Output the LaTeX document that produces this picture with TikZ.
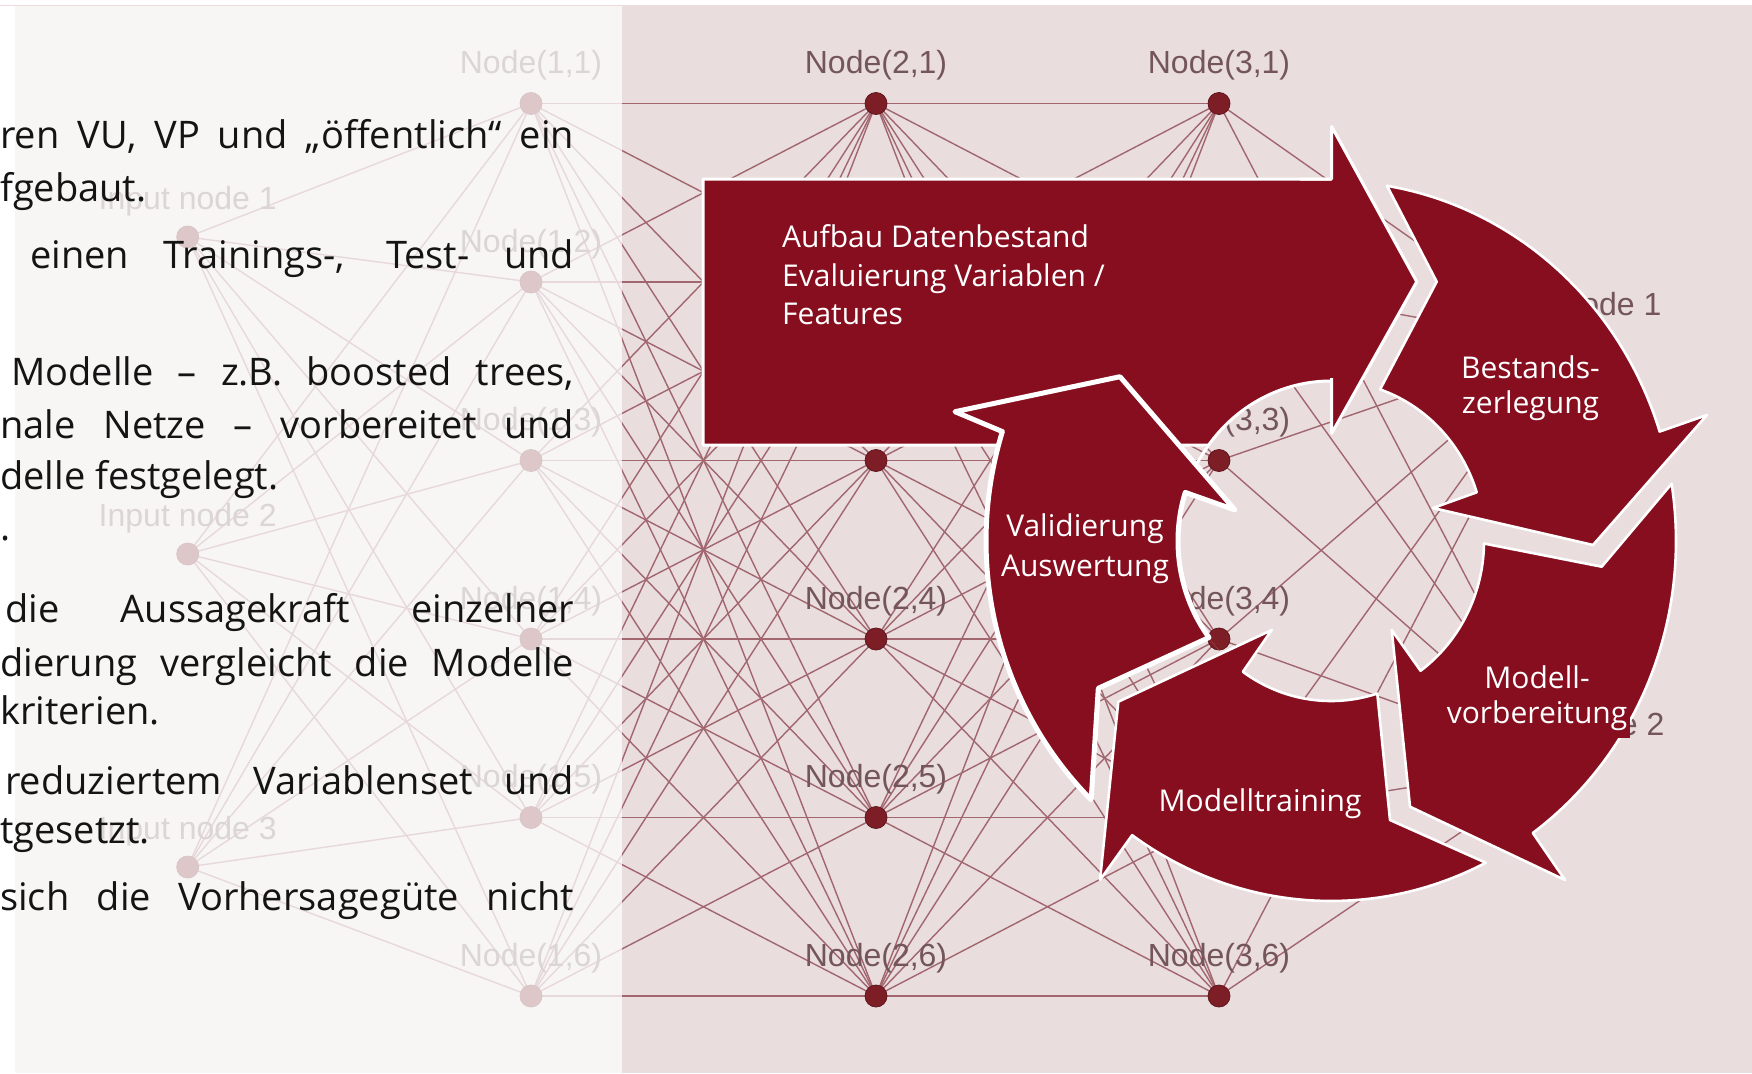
\documentclass[tikz,border=0pt]{standalone}
\usepackage{fontspec}
\setmainfont{Open Sans}
\newfontfamily\netfont{Liberation Sans}
\definecolor{bgpink}{RGB}{233,221,222}
\definecolor{panelwhite}{RGB}{253,253,253}
\definecolor{netcol}{RGB}{162,102,111}
\definecolor{netlbl}{RGB}{116,86,90}
\definecolor{dotred}{RGB}{125,30,38}
\definecolor{dotedge}{RGB}{95,22,28}
\definecolor{arrowred}{RGB}{134,14,30}
\definecolor{txtcol}{RGB}{20,20,20}
\definecolor{topline}{RGB}{236,218,221}

\newcommand{\drawnet}{%
  \coordinate (I1) at (187.7,237);
  \coordinate (I2) at (187.7,554);
  \coordinate (I3) at (187.7,867);
  \coordinate (O1) at (1560,343);
  \coordinate (O2) at (1563,763);
  \foreach \q/\y in {1/103.5,2/282,3/460.5,4/639,5/817.5,6/996}{%
    \coordinate (A\q) at (531,\y);
    \coordinate (B\q) at (876,\y);
    \coordinate (C\q) at (1219,\y);
  }%
  \foreach \ii in {1,...,6}{\foreach \jj in {1,...,6}{%
    \draw[nl] (A\ii) -- (B\jj);
    \draw[nl] (B\ii) -- (C\jj);
  }}%
  \foreach \ii in {1,2,3}{\foreach \jj in {1,...,6}{\draw[nl] (I\ii) -- (A\jj);}}%
  \foreach \ii in {1,...,6}{\foreach \jj in {1,2}{\draw[nl] (C\ii) -- (O\jj);}}%
  \foreach \q/\y in {1/103.5,2/282,3/460.5,4/639,5/817.5,6/996}{%
    \node[netdot] (dA\q) at (A\q) {};
    \node[netdot] (dB\q) at (B\q) {};
    \node[netdot] (dC\q) at (C\q) {};
    \node[netlabel] (tA\q) at (531,{\y-30}) {Node(1,\q)};
    \node[netlabel] (tB\q) at (876,{\y-30}) {Node(2,\q)};
    \node[netlabel] (tC\q) at (1219,{\y-30}) {Node(3,\q)};
  }%
  \foreach \m/\y in {1/237,2/554,3/867}{%
    \node[netdot] (dI\m) at (I\m) {};
    \node[netlabel] (tI\m) at (187.7,{\y-28}) {Input node \m};
  }%
  \foreach \m/\x/\y in {1/1560/343,2/1563/763}{%
    \node[netdot] (dO\m) at (O\m) {};
    \node[netlabel] (tO\m) at (\x,{\y-28}) {Output node \m};
  }%
}

\begin{document}
\begin{tikzpicture}[x=1pt,y=-1pt,
  nl/.style={draw=netcol, line width=1.4pt},
  netdot/.style={circle, fill=dotred, draw=dotedge, line width=0.8pt, minimum size=22pt, inner sep=0pt},
  netlabel/.style={font=\netfont\fontsize{32}{36}\selectfont, text=netlbl, anchor=base, inner sep=0pt},
  ltext/.style={anchor=base west, inner sep=0pt, text=txtcol, font=\fontsize{38}{44}\selectfont},
  albl/.style={anchor=base, inner sep=0pt, text=white, font=\fontsize{30}{35}\selectfont},
  awlbl/.style={anchor=base west, inner sep=0pt, text=white, font=\fontsize{30}{35}\selectfont},
  cyc/.style={fill=arrowred, draw=white, line width=2.6pt, line join=round},
]
\useasboundingbox (0,0) rectangle (1752,1073);
\clip (0,0) rectangle (1752,1073);

% backgrounds
\fill[white] (0,0) rectangle (1752,1073);
\fill[bgpink] (15,5) rectangle (1752,1073);

% network
\drawnet

% left panel overlay
\fill[panelwhite, opacity=0.76] (15,5) rectangle (622,1073);
\fill[white] (0,0) rectangle (15,1073);
\fill[white] (0,0) rectangle (1752,5);
\draw[topline, line width=1.2pt] (0,5.5) -- (1752,5.5);

% left text
\node[ltext] (l1) at (0,148) {\makebox[574pt][s]{ren VU, VP und „öffentlich“ ein}};
\node[ltext] (l2) at (0,201) {fgebaut.};
\node[ltext] (l3) at (30,268) {\makebox[544pt][s]{einen Trainings-, Test- und}};
\node[ltext] (l4) at (11,385) {\makebox[563pt][s]{Modelle – z.B. boosted trees,}};
\node[ltext] (l5) at (0,438) {\makebox[574pt][s]{nale Netze – vorbereitet und}};
\node[ltext] (l6) at (0,489) {delle festgelegt.};
\node[ltext] (l7) at (0,540) {.};
\node[ltext] (l8) at (5,622) {\makebox[569pt][s]{die Aussagekraft einzelner}};
\node[ltext] (l9) at (0,676) {\makebox[574pt][s]{dierung vergleicht die Modelle}};
\node[ltext] (l10) at (0,724) {kriterien.};
\node[ltext] (l11) at (5,794) {\makebox[569pt][s]{reduziertem Variablenset und}};
\node[ltext] (l12) at (0,843) {tgesetzt.};
\node[ltext] (l13) at (0,910) {\makebox[574pt][s]{sich die Vorhersagegüte nicht}};

% big block arrow
\filldraw[fill=arrowred, draw=white, line width=3pt, line join=round]
  (703,179) -- (1331.7,179) -- (1331.7,126.7) -- (1416.7,281.7) -- (1331.7,433.3)
  -- (1331.7,445) -- (703,445) -- cycle;

% inner disk of the cycle (background shows through)
\begin{scope}
  \clip (1331,541) ellipse [x radius=153pt, y radius=160pt];
  \fill[bgpink] (1100,300) rectangle (1600,800);
  \drawnet
\end{scope}
\draw[white, line width=3pt] plot[domain=0:1, samples=50, variable=\tt]
  ({1331+153*cos(197.4+72.6*\tt)},{541+160*sin(197.4+72.6*\tt)});

% head of the big arrow over the disk
\fill[arrowred] (1331.7,179) -- (1331.7,126.7) -- (1416.7,281.7) -- (1331.7,433.3) -- cycle;
\draw[white, line width=3pt, line join=round]
  (1300,179) -- (1331.7,179) -- (1331.7,126.7) -- (1416.7,281.7) -- (1331.7,433.3) -- (1331.7,378);

% Bestandszerlegung
\filldraw[cyc] (1436.7,281.7)
  -- plot[domain=0:1, samples=50, variable=\tt] ({1331+153*cos(-71.3+53.6*\tt)},{541+160*sin(-71.3+53.6*\tt)})
  -- (1433,508) -- (1593,545) -- (1707,415)
  -- plot[domain=0:1, samples=60, variable=\tt] ({1331+345*cos(-17.7-63*\tt)},{541+360*sin(-17.7-63*\tt)})
  -- cycle;

% Modellvorbereitung
\filldraw[cyc] (1601.7,566.7)
  -- plot[domain=0:1, samples=50, variable=\tt] ({1331+153*cos(0.9+53.3*\tt)},{541+160*sin(0.9+53.3*\tt)})
  -- (1391.7,630) -- (1410,806.7) -- (1565,880)
  -- plot[domain=0:1, samples=60, variable=\tt] ({1331+345*cos(54.2-63.4*\tt)},{541+360*sin(54.2-63.4*\tt)})
  -- cycle;

% Modelltraining
\filldraw[cyc] (1390,820)
  -- plot[domain=0:1, samples=50, variable=\tt] ({1331+153*cos(72.4+52.8*\tt)},{541+160*sin(72.4+52.8*\tt)})
  -- (1271.7,630) -- (1118.3,701.7) -- (1100,880)
  -- plot[domain=0:1, samples=60, variable=\tt] ({1331+345*cos(125.2-61.9*\tt)},{541+360*sin(125.2-61.9*\tt)})
  -- cycle;

% Validierung / Auswertung
\filldraw[cyc, line width=5pt] (1098.3,688.3)
  -- plot[domain=0:1, samples=50, variable=\tt] ({1331+153*cos(142.9+54.8*\tt)},{541+160*sin(142.9+54.8*\tt)})
  -- (1235,510) -- (1120,376.7) -- (955,411.7)
  -- plot[domain=0:1, samples=60, variable=\tt] ({1331+345*cos(197.7-63.7*\tt)},{541+360*sin(197.7-63.7*\tt)})
  -- cycle;

% label box patch
\fill[arrowred] (1590,713) rectangle (1630,738);

% arrow labels
\node[awlbl] (a1) at (782,247.6) {Aufbau Datenbestand};
\node[awlbl] (a2) at (782,286) {Evaluierung Variablen /};
\node[awlbl] (a3) at (782,324.5) {Features};
\node[albl] (b1) at (1530.5,378.3) {Bestands-};
\node[albl] (b2) at (1530.5,413.3) {zerlegung};
\node[albl] (m1) at (1537,688.3) {Modell-};
\node[albl] (m2) at (1537,723.3) {vorbereitung};
\node[albl] (t1) at (1260,811.7) {Modelltraining};
\node[albl] (v1) at (1085,536.7) {Validierung};
\node[albl] (v2) at (1085,576.7) {Auswertung};
\end{tikzpicture}
\end{document}
